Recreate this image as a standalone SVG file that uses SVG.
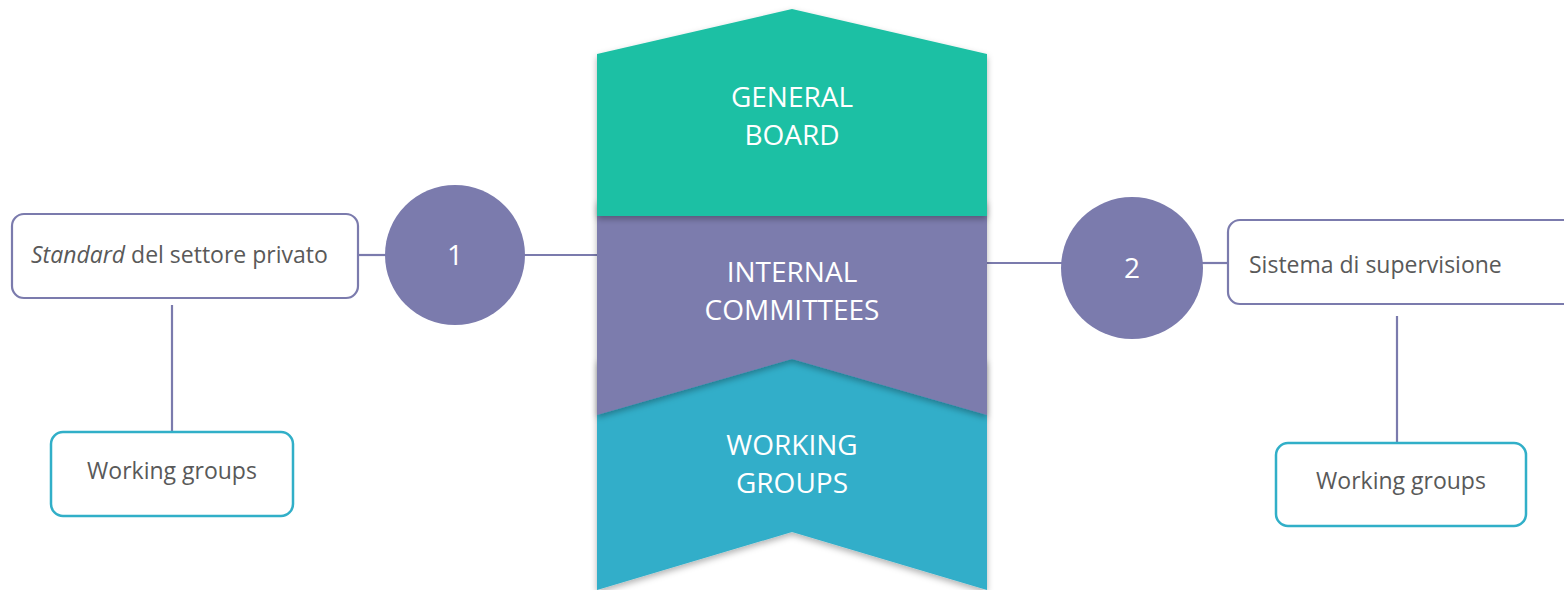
<svg xmlns="http://www.w3.org/2000/svg" width="1564" height="590" viewBox="0 0 1564 590">
<style>
.lbl{font-family:"Open Sans","Liberation Sans",sans-serif;fill:#ffffff;font-size:28px;text-anchor:middle}
.box{fill:#ffffff;stroke:#7B7BAD;stroke-width:2.2}
.wg{fill:#ffffff;stroke:#31AFC8;stroke-width:2.5}
.txt{font-family:"Open Sans","Liberation Sans",sans-serif;fill:#595959;font-size:23px}
.conn{stroke:#7B7BAD;stroke-width:2.2;fill:none}
.circ{fill:#7B7BAD}
</style>
<defs>
<filter id="sh" x="-10%" y="-10%" width="120%" height="130%">
<feDropShadow dx="0" dy="3" stdDeviation="3" flood-color="#000000" flood-opacity="0.3"/>
</filter>
</defs>
<g id="connectors">
<line class="conn" x1="358" y1="255" x2="386" y2="255"/>
<line class="conn" x1="524" y1="255" x2="598" y2="255"/>
<line class="conn" x1="172" y1="305" x2="172" y2="432"/>
<line class="conn" x1="986" y1="263" x2="1062" y2="263"/>
<line class="conn" x1="1202" y1="263" x2="1229" y2="263"/>
<line class="conn" x1="1397" y1="316" x2="1397" y2="443"/>
</g>
<g id="working-groups-band">
<polygon points="597,360 792,300 987,360 987,590 792,532 597,590" fill="#30AEC9" filter="url(#sh)"/>
<text class="lbl" x="792" y="455">WORKING</text>
<text class="lbl" x="792" y="493">GROUPS</text>
</g>
<g id="internal-committees">
<polygon points="597,200 987,200 987,415 792,359 597,415" fill="#7B7BAD" filter="url(#sh)"/>
<text class="lbl" x="792" y="282">INTERNAL</text>
<text class="lbl" x="792" y="320">COMMITTEES</text>
</g>
<g id="general-board">
<polygon points="597,54 792,9 987,54 987,216 597,216" fill="#1FC0A4" filter="url(#sh)"/>
<text class="lbl" x="792" y="107">GENERAL</text>
<text class="lbl" x="792" y="145">BOARD</text>
</g>
<g id="circle-1">
<circle class="circ" cx="455" cy="255" r="70"/>
<text class="lbl" x="455" y="265">1</text>
</g>
<g id="circle-2">
<circle class="circ" cx="1132" cy="268" r="71"/>
<text class="lbl" x="1132" y="278">2</text>
</g>
<g id="box-standard">
<rect class="box" x="12" y="214" width="346" height="84" rx="12"/>
<text class="txt" x="31" y="263"><tspan font-style="italic">Standard</tspan> del settore privato</text>
</g>
<g id="box-sistema">
<rect class="box" x="1228" y="220" width="360" height="84" rx="12"/>
<text class="txt" x="1249" y="273">Sistema di supervisione</text>
</g>
<g id="wg-left">
<rect class="wg" x="51" y="432" width="242" height="84" rx="12"/>
<text class="txt" x="172" y="479" text-anchor="middle">Working groups</text>
</g>
<g id="wg-right">
<rect class="wg" x="1276" y="443" width="250" height="83" rx="12"/>
<text class="txt" x="1401" y="489" text-anchor="middle">Working groups</text>
</g>
</svg>
